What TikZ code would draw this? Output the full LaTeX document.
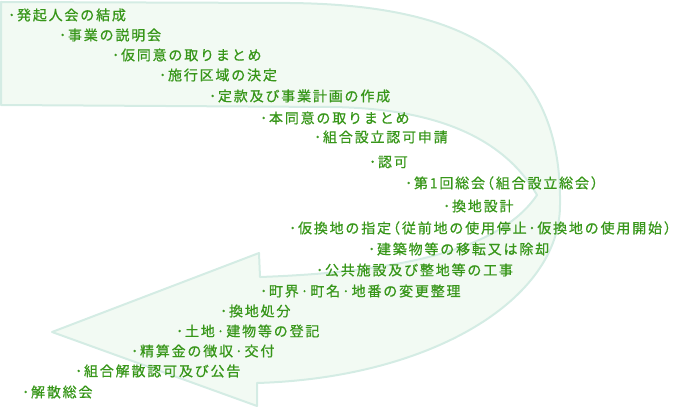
\documentclass[tikz,border=0pt]{standalone}
\usepackage{fontspec}
\setmainfont{Noto Sans CJK JP}[LetterSpace=13,FakeBold=0.7]
\definecolor{itemgreen}{RGB}{55,150,25}
\definecolor{arrowline}{RGB}{212,236,228}
\definecolor{arrowfill}{RGB}{242,250,243}
\newcommand{\lpar}{\kern-5pt（}
\newcommand{\rpar}{）\kern-9pt}
\begin{document}
\begin{tikzpicture}[x=1pt,y=-1pt,font=\fontsize{14pt}{16pt}\selectfont,item/.style={anchor=west,inner sep=0pt,text=itemgreen}]
	\useasboundingbox (0,0) rectangle (677,409);
	\draw[line width=2pt,draw=arrowline,fill=arrowfill,line join=round] (1,2)--(290,3) .. controls (470,5) and (562,60) .. (560,205) .. controls (560,300) and (430,378) .. (257,383)--(257,406)--(52,332)--(259,253)--(260,277) .. controls (400,272) and (500,250) .. (537,195) .. controls (505,140) and (440,108) .. (330,107)--(1,105)--cycle;
	\node[item] (s1) at (8,15) {･発起人会の結成};
	\node[item] (s2) at (59,35) {･事業の説明会};
	\node[item] (s3) at (112,55) {･仮同意の取りまとめ};
	\node[item] (s4) at (159,75) {･施行区域の決定};
	\node[item] (s5) at (209,96) {･定款及び事業計画の作成};
	\node[item] (s6) at (260,118) {･本同意の取りまとめ};
	\node[item] (s7) at (314,137) {･組合設立認可申請};
	\node[item] (s8) at (369,162) {･認可};
	\node[item] (s9) at (405,183) {･第1回総会\lpar 組合設立総会\rpar};
	\node[item] (s10) at (443,206) {･換地設計};
	\node[item] (s11) at (289,228) {･仮換地の指定\lpar 従前地の使用停止･仮換地の使用開始\rpar};
	\node[item] (s12) at (368,249) {･建築物等の移転又は除却};
	\node[item] (s13) at (316,270) {･公共施設及び整地等の工事};
	\node[item] (s14) at (260,291) {･町界·町名·地番の変更整理};
	\node[item] (s15) at (220,311) {･換地処分};
	\node[item] (s16) at (176,331) {･土地·建物等の登記};
	\node[item] (s17) at (131,351) {･精算金の徴収·交付};
	\node[item] (s18) at (75,371) {･組合解散認可及び公告};
	\node[item] (s19) at (22,392) {･解散総会};
\end{tikzpicture}
\end{document}
